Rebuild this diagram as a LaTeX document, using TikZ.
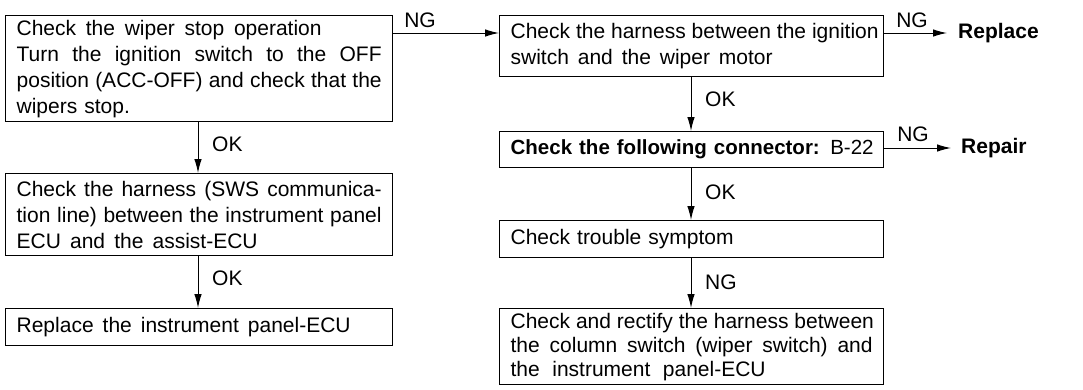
\documentclass[tikz,border=0pt]{standalone}
\usepackage{fontspec}
\setmainfont{Liberation Sans}
\usetikzlibrary{arrows.meta}
\newcommand{\jline}[2][\hsize]{\leavevmode\hbox to #1{\spaceskip=.28em plus 1fil\relax #2}}
\begin{document}
\begin{tikzpicture}[x=1pt,y=-1pt,
  txt/.style={font=\fontsize{21}{26}\selectfont},
  box/.style={txt,draw,line width=1.3pt,anchor=north west,inner xsep=11pt,inner ysep=0pt,align=left},
  lbl/.style={txt,inner sep=0pt},
  res/.style={inner sep=0pt,anchor=west,font=\fontsize{21}{26}\selectfont\bfseries},
  arr/.style={line width=1pt,-{Latex[length=14pt,width=7.5pt]}}
]
\useasboundingbox (0,0) rectangle (1083,389);
% boxes
\node[box,text width=365pt,minimum width=387pt,minimum height=106pt] (A) at (5,15)
  {\jline[305pt]{Check the wiper stop operation}\\
   \jline{Turn the ignition switch to the OFF}\\
   \jline{position (ACC-OFF) and check that the}\\
   wipers stop.};
\node[box,text width=365pt,minimum width=387pt,minimum height=82pt] (F) at (5,173)
  {\jline{Check the harness (SWS communica-}\\
   \jline{tion line) between the instrument panel}\\
   \jline[241pt]{ECU and the assist-ECU}};
\node[box,text width=365pt,minimum width=387pt,minimum height=37pt] (G) at (5,308)
  {\jline[334pt]{Replace the instrument panel-ECU}};
\node[box,text width=362pt,minimum width=384pt,minimum height=61pt] (B) at (499,15)
  {\jline{Check the harness between the ignition}\\
   \jline[262pt]{switch and the wiper motor}};
\node[box,text width=362pt,minimum width=384pt,minimum height=36pt] (C) at (499,131)
  {\mbox{\fontsize{20.5}{26}\selectfont\textbf{Check the following connector:} B-22}};
\node[box,text width=362pt,minimum width=384pt,minimum height=37pt] (D) at (499,220)
  {Check trouble symptom};
\node[box,text width=362pt,minimum width=384pt,minimum height=76pt,font=\fontsize{21}{24}\selectfont] (E) at (499,308)
  {\jline{Check and rectify the harness between}\\
   \jline{the column switch (wiper switch) and}\\
   \jline[255pt]{the instrument panel-ECU}};
% results
\node[res] (Rp) at (958,33) {Replace};
\node[res] (Rr) at (961,148) {Repair};
\coordinate (xl) at (198,0);
\coordinate (xr) at (691,0);
\coordinate (yt) at (0,33);
\coordinate (yc) at (0,148);
% connectors
\draw[arr] (A.east |- yt) -- (B.west |- yt);
\draw[arr] (B.east |- yt) -- ([xshift=-11pt]Rp.west);
\draw[arr] (C.east |- yc) -- ([xshift=-10pt]Rr.west);
\draw[arr] (A.south -| xl) -- (F.north -| xl);
\draw[arr] (F.south -| xl) -- (G.north -| xl);
\draw[arr] (B.south -| xr) -- (C.north -| xr);
\draw[arr] (C.south -| xr) -- (D.north -| xr);
\draw[arr] (D.south -| xr) -- (E.north -| xr);
% labels
\node[lbl] (l1) at (420,20) {NG};
\node[lbl] (l2) at (912,20) {NG};
\node[lbl] (l3) at (913,134) {NG};
\node[lbl,anchor=west] (l4) at (212,144) {OK};
\node[lbl,anchor=west] (l5) at (212,278) {OK};
\node[lbl,anchor=west] (l6) at (705,99) {OK};
\node[lbl,anchor=west] (l7) at (705,192) {OK};
\node[lbl,anchor=west] (l8) at (705,282) {NG};
\end{tikzpicture}
\end{document}
